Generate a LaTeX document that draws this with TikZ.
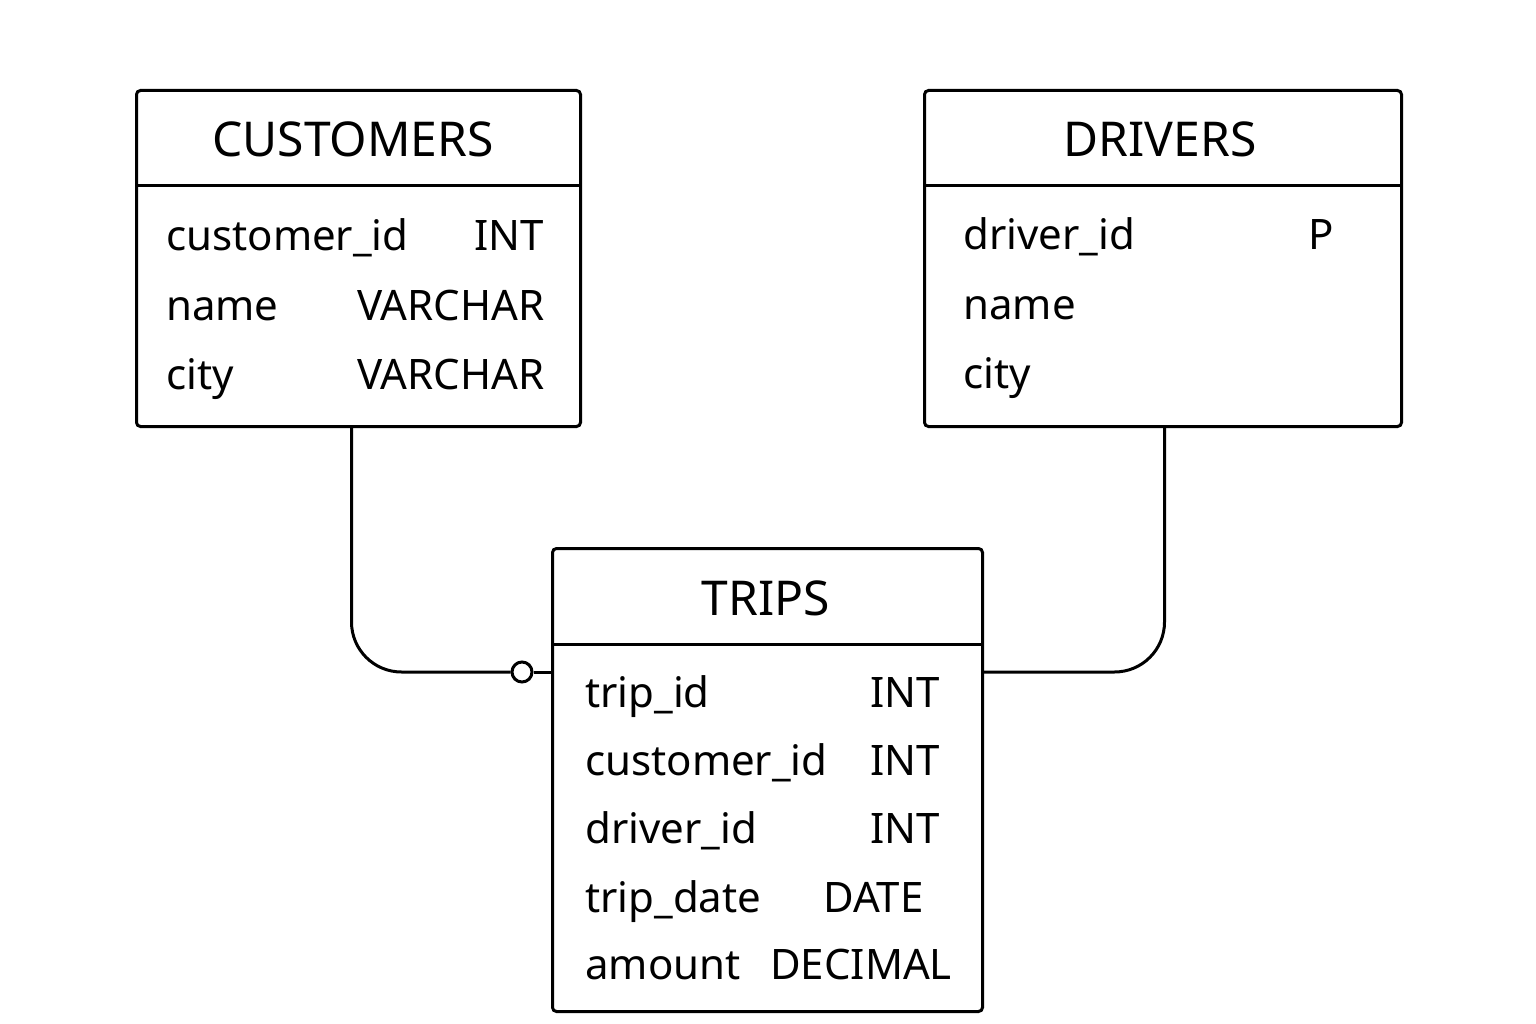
\documentclass[tikz,border=0pt]{standalone}
\usepackage{fontspec}
\setmainfont{Noto Sans}
\usetikzlibrary{positioning}
\tikzset{
tabela/.style={draw=black, line width=3pt, rounded corners=4pt, inner sep=0pt}
}
\tikzset{
divisa/.style={draw=black, line width=3pt},
ligacao/.style={draw=black, line width=3pt, rounded corners=50pt}
}
\tikzset{
titulo/.style={anchor=base, inner sep=0pt, font=\fontsize{48}{56}\selectfont},
campo/.style={anchor=base west, inner sep=0pt, font=\fontsize{42}{50}\selectfont}
}

\begin{document}
\begin{tikzpicture}[x=1pt,y=-1pt]
    \useasboundingbox (0,0) rectangle (1536,1024);

    % CUSTOMERS
    \node[tabela, anchor=north west, minimum width=444pt, minimum height=336pt] (customers) at (135,89) {};
    \path[divisa] (customers.west |- 0,186) -- (customers.east |- 0,186);
    \node[titulo] (custtit) at (353,157) {CUSTOMERS};
    \node[campo] (custid) at (166,251) {customer\_id};
    \node[campo] (custidt) at (474,251) {INT};
    \node[campo] (custnome) at (166,320) {name};
    \node[campo] (custnomet) at (357,320) {VARCHAR};
    \node[campo] (custcid) at (166,389) {city};
    \node[campo] (custcidt) at (357,389) {VARCHAR};

    % DRIVERS
    \node[tabela, anchor=north west, minimum width=477pt, minimum height=336pt] (drivers) at (923,89) {};
    \path[divisa] (drivers.west |- 0,186) -- (drivers.east |- 0,186);
    \node[titulo] (drvtit) at (1160,157) {DRIVERS};
    \node[campo] (drvid) at (963,250) {driver\_id};
    \node[campo] (drvidt) at (1308,250) {P};
    \node[campo] (drvnome) at (963,319) {name};
    \node[campo] (drvcid) at (963,388) {city};

    % TRIPS
    \node[tabela, anchor=north west, minimum width=430pt, minimum height=463pt] (trips) at (551,547) {};
    \path[divisa] (trips.west |- 0,644) -- (trips.east |- 0,644);
    \node[titulo] (tritit) at (766,615) {TRIPS};
    \node[campo] (trid) at (585,707) {trip\_id};
    \node[campo] (tridt) at (870,707) {INT};
    \node[campo] (trcust) at (585,775) {customer\_id};
    \node[campo] (trcustt) at (870,775) {INT};
    \node[campo] (trdrv) at (585,843) {driver\_id};
    \node[campo] (trdrvt) at (870,843) {INT};
    \node[campo] (trdata) at (585,912) {trip\_date};
    \node[campo] (trdatat) at (823,912) {DATE};
    \node[campo] (trval) at (585,979) {amount};
    \node[campo] (trvalt) at (770,979) {DECIMAL};

    % LIGACOES
    \node[circle, draw=black, line width=3pt, minimum size=20pt, inner sep=0pt] (zero) at (522,672) {};
    \path[ligacao] ([xshift=-7pt]customers.south) |- (zero.west);
    \path[divisa] (zero.east) -- (trips.west |- zero);
    \path[ligacao] (trips.east |- zero) -| ([xshift=1.5pt]drivers.south);

\end{tikzpicture}
\end{document}
